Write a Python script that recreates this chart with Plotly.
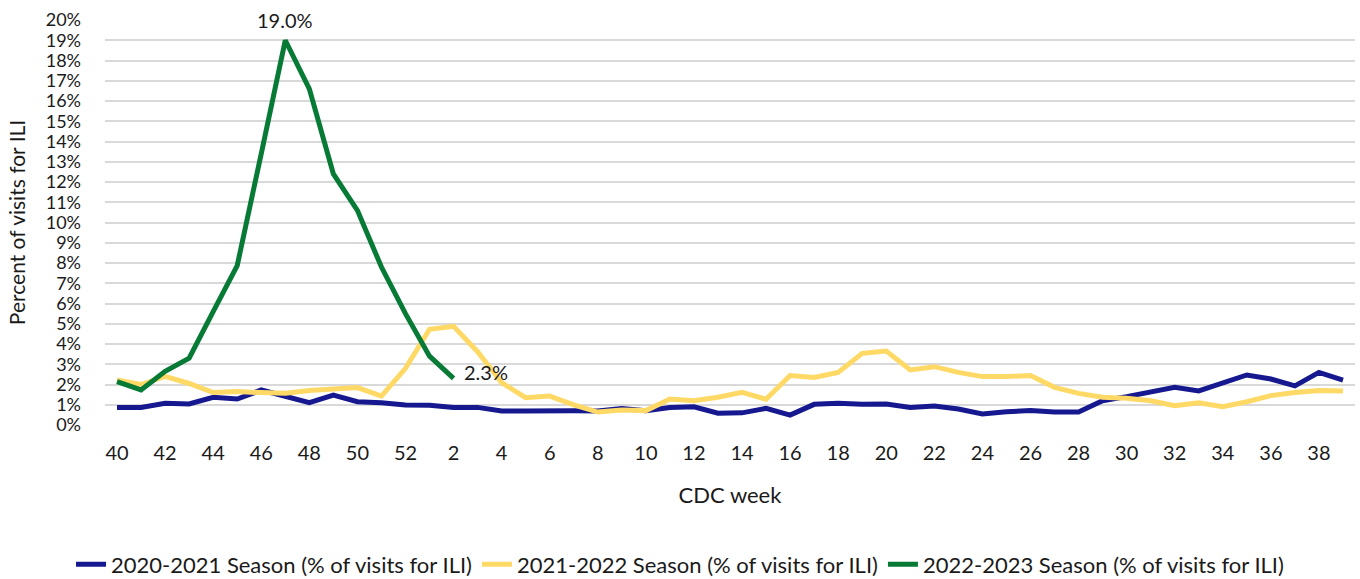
import plotly.graph_objects as go

weeks = [str(w) for w in list(range(40, 53)) + list(range(1, 40))]

season_2020_21 = [0.87, 0.87, 1.07, 1.04, 1.37, 1.28, 1.73, 1.40, 1.10, 1.48, 1.15, 1.10, 0.99,
                  0.97, 0.87, 0.87, 0.69, 0.69, 0.72, 0.70, 0.69, 0.81, 0.71, 0.86, 0.90, 0.58,
                  0.60, 0.82, 0.49, 1.02, 1.07, 1.02, 1.04, 0.86, 0.94, 0.79, 0.54, 0.66, 0.71,
                  0.64, 0.64, 1.20, 1.40, 1.61, 1.86, 1.68, 2.09, 2.47, 2.27, 1.93, 2.60, 2.22]

season_2021_22 = [2.22, 2.00, 2.40, 2.05, 1.60, 1.65, 1.60, 1.57, 1.70, 1.78, 1.85, 1.43, 2.80,
                  4.73, 4.87, 3.62, 2.09, 1.35, 1.43, 0.99, 0.64, 0.74, 0.71, 1.28, 1.20, 1.37,
                  1.61, 1.27, 2.44, 2.35, 2.60, 3.54, 3.65, 2.72, 2.88, 2.60, 2.39, 2.39, 2.44,
                  1.86, 1.56, 1.37, 1.32, 1.20, 0.95, 1.10, 0.90, 1.15, 1.45, 1.60, 1.70, 1.68]

season_2022_23 = [2.14, 1.73, 2.65, 3.30, 5.60, 7.87, 13.40, 19.0, 16.60, 12.40, 10.60, 7.80,
                  5.50, 3.40, 2.30]

tick_labels = [w for i, w in enumerate(weeks) if i % 2 == 0]
y_ticks = list(range(0, 21))

names = ["2020-2021 Season (% of visits for ILI)",
         "2021-2022 Season (% of visits for ILI)",
         "2022-2023 Season (% of visits for ILI)"]
colors = ["#15188E", "#FFD966", "#077A36"]

FONT = "Lato"
TXT = "#1a1a1a"

fig = go.Figure()
fig.add_trace(go.Scatter(x=weeks, y=season_2020_21, mode="lines", name=names[0],
                         line=dict(color=colors[0], width=5)))
fig.add_trace(go.Scatter(x=weeks, y=season_2021_22, mode="lines", name=names[1],
                         line=dict(color=colors[1], width=5)))
fig.add_trace(go.Scatter(x=weeks[:len(season_2022_23)], y=season_2022_23, mode="lines",
                         name=names[2], line=dict(color=colors[2], width=5)))

peak_i = season_2022_23.index(max(season_2022_23))
last_i = len(season_2022_23) - 1
# category axis: annotation x given as category index
fig.add_annotation(x=peak_i, y=season_2022_23[peak_i],
                   text=f"{season_2022_23[peak_i]:.1f}%", showarrow=False,
                   xanchor="center", yanchor="middle", yshift=20,
                   font=dict(family=FONT, size=20, color=TXT))
fig.add_annotation(x=last_i, y=season_2022_23[last_i],
                   text=f"{season_2022_23[last_i]:.1f}%", showarrow=False,
                   xanchor="left", yanchor="middle", xshift=8, yshift=6,
                   font=dict(family=FONT, size=20, color=TXT))

fig.update_layout(
    width=1360, height=579,
    margin=dict(l=105, r=5, t=20, b=154),
    paper_bgcolor="white", plot_bgcolor="white",
    font=dict(family=FONT, size=20, color=TXT),
    showlegend=True,
    legend=dict(orientation="h", xref="container", yref="container",
                x=0.5, xanchor="center", y=0.025, yanchor="middle",
                font=dict(family=FONT, size=22, color=TXT),
                itemwidth=30, tracegroupgap=0),
)
fig.update_xaxes(type="category", categoryorder="array", categoryarray=weeks,
                 range=[-0.5, len(weeks) - 0.5],
                 tickmode="array", tickvals=tick_labels, ticktext=tick_labels,
                 tickfont=dict(size=20),
                 showgrid=False, showline=False, zeroline=False, ticks="",
                 ticklabelstandoff=14,
                 title=dict(text="CDC week", standoff=24, font=dict(size=22)))
fig.update_yaxes(range=[0, 20], tickmode="array", tickvals=y_ticks,
                 ticktext=[f"{v}%" for v in y_ticks],
                 tickfont=dict(size=18),
                 showgrid=True, gridcolor="#D9D9D9", gridwidth=1.5,
                 zeroline=False, showline=False, ticks="",
                 ticklabelstandoff=23,
                 title=dict(text="Percent of visits for ILI", standoff=14, font=dict(size=21)))

fig.write_html("out.html", config={"displayModeBar": False},
               post_script="document.body.style.margin='0';")
